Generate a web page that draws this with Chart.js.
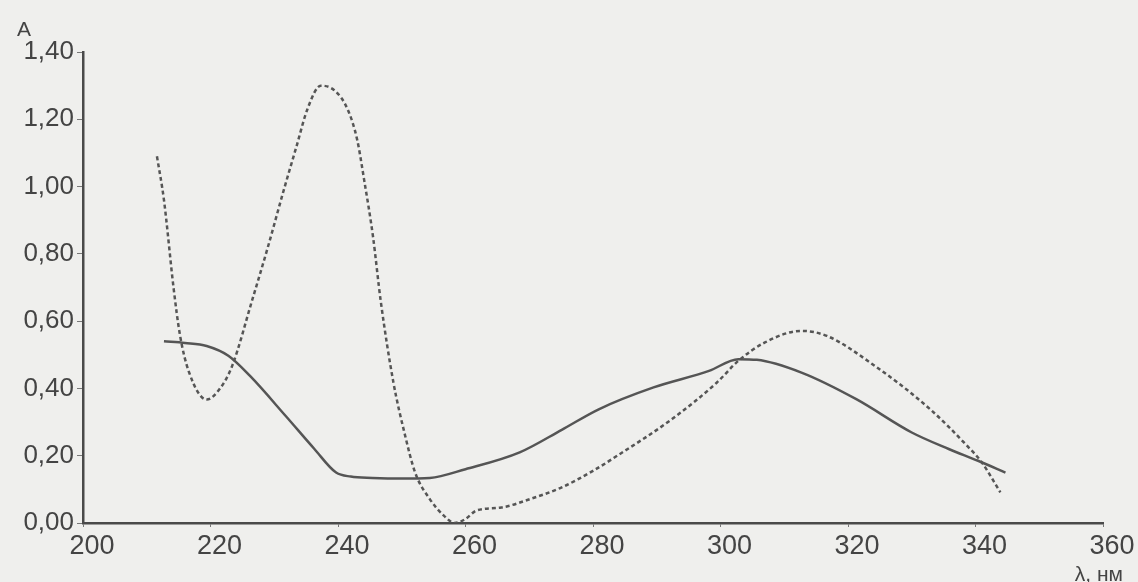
<!DOCTYPE html>
<html>
<head>
<meta charset="utf-8">
<script src="https://cdn.jsdelivr.net/npm/chart.js@4.4.1/dist/chart.umd.min.js"></script>
<style>
  html, body { margin: 0; padding: 0; background: #eeeeec; }
  #wrap { position: relative; width: 1138px; height: 582px; background: #efefed; }
</style>
</head>
<body>
<div id="wrap"><canvas id="c" width="1138" height="582"></canvas></div>
<script>
// Solid curve
const solidWavelengths = [212.7, 216, 219.4, 222.8, 226.2, 231.8, 236.3, 239.7, 242, 245.4, 250, 254.4, 260, 268.5, 275.1, 280.9, 289.5, 298.2, 302.8, 305.7, 312.7, 321.3, 330, 335.8, 340.4, 344.7];
const solidAbsorbance  = [0.54, 0.535, 0.526, 0.497, 0.437, 0.318, 0.22, 0.15, 0.138, 0.134, 0.132, 0.134, 0.16, 0.21, 0.277, 0.338, 0.403, 0.452, 0.487, 0.485, 0.447, 0.368, 0.269, 0.22, 0.185, 0.15];

// Dashed curve
const dashedWavelengths = [211.6, 212.7, 214.2, 215.2, 216.6, 219.4, 221.5, 223.4, 226.5, 229, 231.5, 233.5, 235.2, 237.3, 239.5, 241.5, 243, 244.1, 245.5, 246.7, 248.7, 250.4, 252.1, 254.4, 256.6, 258.3, 260, 261.7, 265.6, 270.1, 275.1, 280, 283.8, 292.4, 299.4, 302.8, 306.9, 312.7, 316.7, 324.2, 332.9, 338.7, 341, 343.9];
const dashedAbsorbance  = [1.09, 0.96, 0.70, 0.56, 0.45, 0.367, 0.40, 0.467, 0.66, 0.82, 0.99, 1.12, 1.23, 1.30, 1.285, 1.23, 1.14, 1.02, 0.85, 0.66, 0.417, 0.27, 0.15, 0.071, 0.022, 0.0, 0.012, 0.037, 0.046, 0.071, 0.106, 0.155, 0.2, 0.309, 0.417, 0.482, 0.536, 0.571, 0.556, 0.467, 0.338, 0.229, 0.18, 0.091];

// Axis ticks
const xTicks = [200, 220, 240, 260, 280, 300, 320, 340, 360];
const yTicks = [0, 0.2, 0.4, 0.6, 0.8, 1.0, 1.2, 1.4];
const yAxisLabel = 'A';
const xAxisLabel = 'λ, нм';

const toPoints = (xs, ys) => xs.map((x, i) => ({ x: x, y: ys[i] }));
const fmt = v => v.toFixed(2).replace('.', ',');

const FONT = "'Liberation Sans', Arial, sans-serif";
const INK = '#444444';

const axisLabels = {
  id: 'axisLabels',
  afterDraw(chart) {
    const ctx = chart.ctx;
    const xs = chart.scales.x, ys = chart.scales.y;
    ctx.save();
    ctx.fillStyle = INK;
    ctx.font = '21px ' + FONT;
    ctx.textAlign = 'left';
    ctx.textBaseline = 'alphabetic';
    ctx.fillText(yAxisLabel, 17, ys.getPixelForValue(1.4) - 16);
    ctx.textAlign = 'right';
    ctx.fillText(xAxisLabel, xs.right + 20, chart.height - 1);
    ctx.restore();
  }
};

new Chart(document.getElementById('c'), {
  type: 'line',
  data: {
    datasets: [
      {
        label: 'solid',
        data: toPoints(solidWavelengths, solidAbsorbance),
        borderColor: '#555555',
        borderWidth: 2.5,
        pointRadius: 0,
        cubicInterpolationMode: 'monotone',
        fill: false
      },
      {
        label: 'dashed',
        data: toPoints(dashedWavelengths, dashedAbsorbance),
        borderColor: '#555555',
        borderWidth: 2.5,
        borderDash: [4, 3],
        pointRadius: 0,
        cubicInterpolationMode: 'monotone',
        fill: false
      }
    ]
  },
  options: {
    responsive: false,
    animation: false,
    devicePixelRatio: 1,
    layout: { padding: { top: 52, right: 35, left: 0, bottom: 0 } },
    plugins: { legend: { display: false }, tooltip: { enabled: false } },
    scales: {
      x: {
        type: 'linear',
        min: 200, max: 360,
        afterBuildTicks: s => { s.ticks = xTicks.map(v => ({ value: v })); },
        afterFit: s => { s.height = 59; },
        border: { display: true, color: '#4a4a4a', width: 2.5 },
        grid: { drawOnChartArea: false, drawTicks: true, tickLength: 4, color: '#777', lineWidth: 1 },
        ticks: { color: INK, font: { family: FONT, size: 27 }, padding: 3, labelOffset: 9, maxRotation: 0, autoSkip: false }
      },
      y: {
        type: 'linear',
        min: 0, max: 1.4,
        afterBuildTicks: s => { s.ticks = yTicks.map(v => ({ value: v })); },
        afterFit: s => { s.width = 83; },
        border: { display: true, color: '#4a4a4a', width: 2.5 },
        grid: { drawOnChartArea: false, drawTicks: true, tickLength: 6, color: '#777', lineWidth: 1 },
        ticks: { color: INK, font: { family: FONT, size: 26 }, padding: 3, callback: v => fmt(v), autoSkip: false }
      }
    }
  },
  plugins: [axisLabels]
});
</script>
</body>
</html>
